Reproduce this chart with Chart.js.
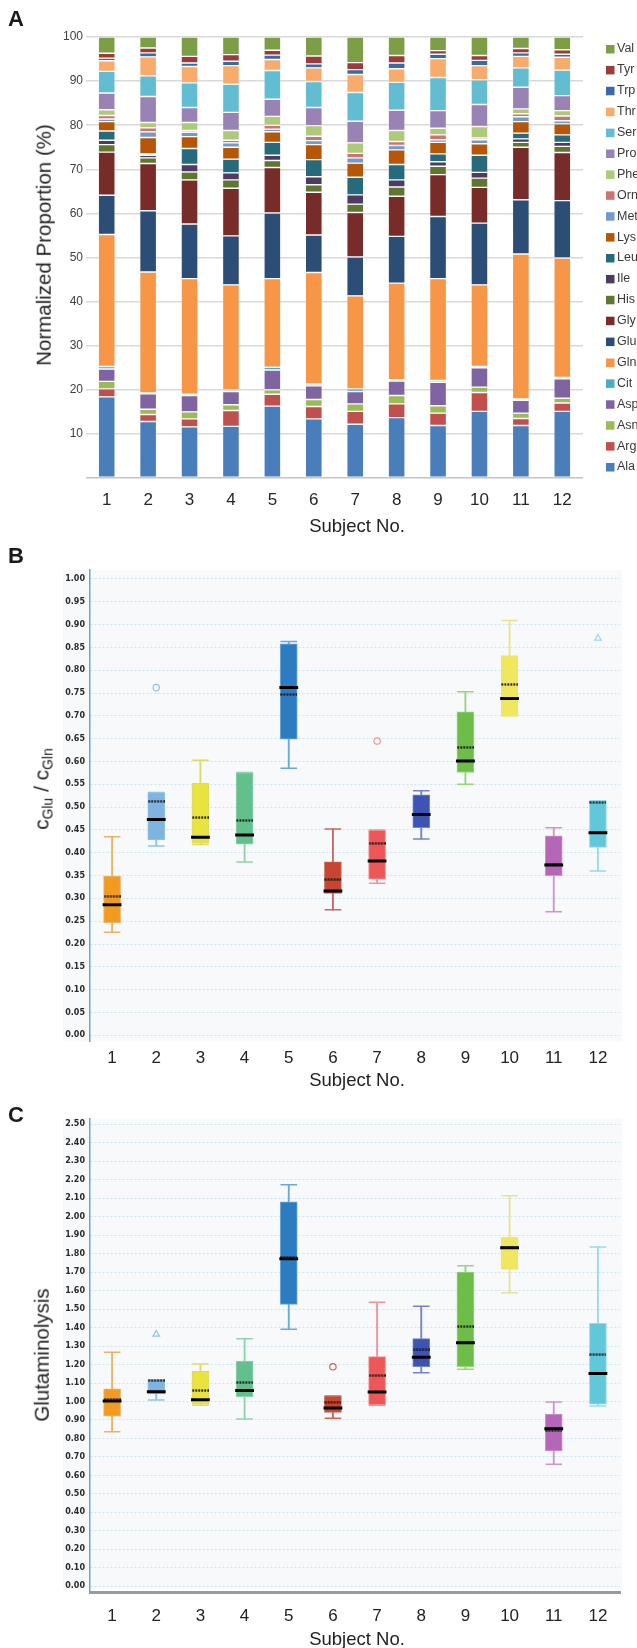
<!DOCTYPE html>
<html>
<head>
<meta charset="utf-8">
<title>Aminoácidos por sujeto</title>
<script src="https://cdn.jsdelivr.net/npm/chart.js@4.4.1/dist/chart.umd.min.js"></script>
<style>
    html, body { margin: 0; padding: 0; background: #fff; }
    body { width: 637px; height: 1648px; position: relative; overflow: hidden; font-family: "Liberation Sans", Arial, sans-serif; color: #222; }
    canvas { position: absolute; left: 0; }
    .lbl { position: absolute; white-space: nowrap; line-height: 1; transform: translate(-50%, -50%); z-index: 2; }
    .panel { font-weight: bold; font-size: 22px; color: #1a1a1a; }
    .ytitle { transform: translate(-50%, -50%) rotate(-90deg); }
    .xtitle { font-size: 18.5px; }
    sub { font-size: 0.66em; vertical-align: -0.32em; line-height: 0; }
</style>
</head>
<body>
<canvas id="chartA" width="637" height="540" style="top:0"></canvas>
<canvas id="chartB" width="637" height="545" style="top:540px"></canvas>
<canvas id="chartC" width="637" height="563" style="top:1085px"></canvas>

<div class="lbl panel" style="left:16px; top:19px">A</div>
<div class="lbl ytitle" style="left:44px; top:245px; font-size:20.5px">Normalized Proportion (%)</div>
<div class="lbl xtitle" style="left:357px; top:526px">Subject No.</div>

<div class="lbl panel" style="left:16px; top:556px">B</div>
<div class="lbl ytitle" style="left:41px; top:789px; font-size:21px">c<sub>Glu</sub> / c<sub>Gln</sub></div>
<div class="lbl xtitle" style="left:357px; top:1080px">Subject No.</div>

<div class="lbl panel" style="left:16px; top:1115px">C</div>
<div class="lbl ytitle" style="left:42px; top:1355px; font-size:20.5px">Glutaminolysis</div>
<div class="lbl xtitle" style="left:357px; top:1639px">Subject No.</div>

<script>
// ---- datos ----
const subjects = ['1', '2', '3', '4', '5', '6', '7', '8', '9', '10', '11', '12'];

// Panel A: proporción normalizada (%) de cada aminoácido, sujetos 1..12
const aminoNames = ['Ala', 'Arg', 'Asn', 'Asp', 'Cit', 'Gln', 'Glu', 'Gly', 'His', 'Ile', 'Leu',
                    'Lys', 'Met', 'Orn', 'Phe', 'Pro', 'Ser', 'Thr', 'Trp', 'Tyr', 'Val'];
const ala = [18.4, 12.8, 11.6, 11.7, 16.3, 13.4, 12.2, 13.7, 11.9, 15.1, 11.9, 15.1];
const arg = [1.8, 1.6, 1.8, 3.6, 2.7, 2.8, 2.9, 3.1, 2.8, 4.3, 1.6, 1.9];
const asn = [1.7, 1.2, 1.6, 1.3, 1.0, 1.6, 1.7, 1.9, 1.7, 1.2, 1.2, 1.1];
const asp = [2.8, 3.5, 3.7, 3.0, 4.5, 3.1, 2.8, 3.3, 5.3, 4.4, 2.9, 4.4];
const cit = [0.6, 0.2, 0.3, 0.4, 0.6, 0.4, 0.6, 0.3, 0.4, 0.3, 0.3, 0.3];
const gln = [29.9, 27.4, 26.2, 23.8, 20.1, 25.3, 21.1, 21.9, 23.1, 18.5, 32.9, 27.1];
const glu = [8.9, 13.9, 12.4, 11.1, 14.9, 8.5, 8.8, 10.6, 14.1, 14.0, 12.3, 13.0];
const gly = [9.8, 10.7, 10.0, 10.8, 10.3, 9.7, 10.1, 9.1, 9.5, 8.1, 11.9, 10.9];
const his = [1.7, 1.3, 1.8, 1.9, 1.6, 1.7, 1.9, 2.1, 1.9, 2.1, 1.1, 1.4];
const ile = [1.0, 0.6, 1.7, 1.6, 1.2, 1.8, 2.1, 1.6, 1.0, 1.3, 0.8, 0.9];
const leu = [2.1, 0.3, 3.6, 3.1, 2.9, 3.9, 4.0, 3.5, 1.8, 3.9, 1.3, 1.7];
const lys = [2.1, 3.7, 2.7, 2.7, 2.4, 3.4, 3.2, 3.3, 2.6, 2.6, 2.6, 2.5];
const met = [0.6, 1.3, 1.0, 1.0, 0.6, 0.9, 1.2, 1.0, 0.6, 0.9, 1.1, 0.7];
const orn = [0.8, 0.9, 0.4, 0.6, 0.9, 1.0, 1.0, 0.9, 1.1, 0.4, 0.7, 1.1];
const phe = [1.3, 1.2, 1.8, 2.2, 2.0, 2.4, 2.4, 2.5, 1.5, 2.6, 1.1, 1.2];
const pro = [3.8, 5.9, 3.4, 4.1, 3.9, 4.1, 4.9, 4.6, 4.0, 5.0, 4.9, 3.4];
const ser = [4.9, 4.7, 5.6, 6.4, 6.5, 5.9, 6.5, 6.3, 7.5, 5.6, 4.4, 5.8];
const thr = [2.4, 4.3, 3.7, 4.2, 2.5, 3.1, 4.1, 3.1, 4.3, 3.2, 2.6, 2.9];
const trp = [0.6, 0.9, 0.8, 1.0, 1.0, 0.9, 1.1, 1.3, 1.0, 1.2, 0.8, 0.7];
const tyr = [1.1, 1.1, 1.5, 1.5, 1.1, 1.8, 1.6, 1.7, 0.8, 1.1, 1.0, 1.0];
const val = [3.7, 2.5, 4.4, 4.0, 3.0, 4.3, 5.8, 4.2, 3.1, 4.2, 2.6, 2.9];
const percentTicks = [0, 10, 20, 30, 40, 50, 60, 70, 80, 90, 100];

// Panel B: cGlu / cGln
const ratioMin    = [0.226, 0.415, 0.418, 0.380, 0.585, 0.275, 0.333, 0.430, 0.550, 0.700, 0.271, 0.360];
const ratioQ1     = [0.247, 0.428, 0.421, 0.419, 0.649, 0.311, 0.342, 0.455, 0.576, 0.700, 0.350, 0.412];
const ratioMedian = [0.286, 0.473, 0.434, 0.439, 0.762, 0.316, 0.382, 0.484, 0.601, 0.738, 0.373, 0.444];
const ratioMean   = [0.305, 0.513, 0.477, 0.471, 0.747, 0.341, 0.421, 0.484, 0.631, 0.769, 0.375, 0.511];
const ratioQ3     = [0.349, 0.532, 0.552, 0.576, 0.858, 0.380, 0.450, 0.527, 0.709, 0.832, 0.437, 0.514];
const ratioMax    = [0.435, 0.532, 0.603, 0.576, 0.863, 0.452, 0.450, 0.536, 0.753, 0.909, 0.455, 0.514];
const ratioOutCircle   = [null, 0.762, null, null, null, null, 0.645, null, null, null, null, null];
const ratioOutTriangle = [null, null, null, null, null, null, null, null, null, null, null, 0.870];
const ratioTicks = [0.00, 0.05, 0.10, 0.15, 0.20, 0.25, 0.30, 0.35, 0.40, 0.45, 0.50,
                    0.55, 0.60, 0.65, 0.70, 0.75, 0.80, 0.85, 0.90, 0.95, 1.00];

// Panel C: glutaminólisis
const glnMin    = [0.837, 1.008, 0.980, 0.905, 1.391, 0.909, 0.980, 1.156, 1.174, 1.589, 0.660, 0.976];
const glnQ1     = [0.921, 1.041, 0.985, 1.026, 1.526, 0.941, 0.981, 1.188, 1.188, 1.715, 0.732, 0.985];
const glnMedian = [1.003, 1.053, 1.010, 1.059, 1.773, 0.965, 1.051, 1.239, 1.318, 1.832, 0.853, 1.152];
const glnMean   = [1.012, 1.113, 1.059, 1.102, 1.780, 0.997, 1.140, 1.279, 1.405, 1.835, 0.842, 1.253];
const glnQ3     = [1.068, 1.116, 1.165, 1.219, 2.080, 1.030, 1.243, 1.340, 1.701, 1.888, 0.932, 1.423];
const glnMax    = [1.266, 1.116, 1.203, 1.340, 2.173, 1.030, 1.537, 1.515, 1.735, 2.114, 0.997, 1.836];
const glnOutCircle   = [null, null, null, null, null, 1.188, null, null, null, null, null, null];
const glnOutTriangle = [null, 1.364, null, null, null, null, null, null, null, null, null, null];
const glnTicks = [0.00, 0.10, 0.20, 0.30, 0.40, 0.50, 0.60, 0.70, 0.80, 0.90, 1.00, 1.10, 1.20,
                  1.30, 1.40, 1.50, 1.60, 1.70, 1.80, 1.90, 2.00, 2.10, 2.20, 2.30, 2.40, 2.50];

// ---- estilos ----
const aminoColors = ['#4a7ebb', '#c0504d', '#9bbb59', '#8064a2', '#4bacc6', '#f79646', '#2c4d75',
                     '#772c2a', '#5f7530', '#4d3b62', '#276a7c', '#b65708', '#729aca', '#cd7371',
                     '#afc97a', '#9983b5', '#62bdd3', '#f9ab6b', '#3a6aa6', '#9c3c3a', '#7c9e45'];
const boxColors = ['#f39a21', '#80b4e0', '#e9e33e', '#63c08d', '#2c7cc1', '#c8462f',
                   '#ee5757', '#3e54b4', '#6dbd49', '#efe85e', '#b566b6', '#60c8d9'];
const whiskerColors = ['#e6b56a', '#8fc4e8', '#dcd96f', '#8ed3ad', '#6ea8d7', '#c26a5b',
                       '#ef9494', '#7584ca', '#99d37f', '#e8e48c', '#cc96cd', '#97dbe7'];

Chart.defaults.font.family = '"Liberation Sans", Arial, sans-serif';

const aminoData = [ala, arg, asn, asp, cit, gln, glu, gly, his, ile, leu, lys, met, orn, phe, pro, ser, thr, trp, tyr, val];

// Leyenda del panel A (Val arriba, Ala abajo)
const legendA = {
    id: 'legendA',
    afterDraw(chart) {
        const { ctx, chartArea } = chart;
        const sets = chart.data.datasets;
        ctx.save();
        ctx.font = '12.5px "Liberation Sans", Arial, sans-serif';
        ctx.textBaseline = 'middle';
        sets.forEach((ds, i) => {
            const row = sets.length - 1 - i;
            const y = chartArea.top + 12 + row * 20.9;
            ctx.fillStyle = ds.backgroundColor;
            ctx.fillRect(chartArea.right + 23, y - 4, 8.5, 8.5);
            ctx.fillStyle = '#3a3a3a';
            ctx.fillText(ds.label, chartArea.right + 34, y);
        });
        ctx.restore();
    }
};

// Fondo claro de los paneles B y C
const fondoCaja = {
    id: 'fondoCaja',
    beforeDraw(chart, args, opts) {
        const { ctx, chartArea } = chart;
        ctx.save();
        ctx.fillStyle = '#f8f9fb';
        ctx.fillRect(opts.left, chartArea.top, chartArea.right + 2 - opts.left,
                     chartArea.bottom - chartArea.top - (opts.trim || 0));
        ctx.restore();
    }
};

// marca punteada para la media
const puntosMedia = document.createElement('canvas');
puntosMedia.width = 17;
puntosMedia.height = 3;
(() => {
    const c = puntosMedia.getContext('2d');
    c.fillStyle = '#111';
    for (let x = 0; x < 17; x += 3) c.fillRect(x + 0.4, 0.4, 1.8, 2.2);
})();

// ---- Panel A ----
new Chart(document.getElementById('chartA'), {
    type: 'bar',
    data: {
        labels: subjects,
        datasets: aminoNames.map((name, i) => ({
            label: name,
            data: aminoData[i],
            backgroundColor: aminoColors[i],
            borderColor: 'rgba(255,255,255,0.35)',
            borderWidth: 0.7,
            borderSkipped: false,
            barPercentage: 0.41,
            categoryPercentage: 1
        }))
    },
    options: {
        responsive: false, animation: false, events: [],
        layout: { padding: { left: 0, right: 54, top: 37, bottom: 0 } },
        plugins: { legend: { display: false }, tooltip: { enabled: false } },
        scales: {
            x: {
                stacked: true,
                grid: { display: false, drawTicks: false }, border: { display: false },
                ticks: { color: '#262626', font: { size: 17 }, padding: 12 },
                afterFit: s => { s.height = 62; }
            },
            y: {
                stacked: true, min: 0, max: 100,
                afterBuildTicks: s => { s.ticks = percentTicks.map(v => ({ value: v })); },
                grid: { color: c => c.tick && c.tick.value === 0 ? '#c4c4c4' : '#d9d9d9', lineWidth: 1.5, drawTicks: false },
                border: { display: false },
                ticks: { color: '#404040', font: { size: 12 }, padding: 3, callback: v => v === 0 ? '' : v },
                afterFit: s => { s.width = 86; }
            }
        }
    },
    plugins: [legendA]
});

// ---- Paneles B y C (boxplots) ----
function crearBoxplot(id, st, ejeY, xAlto, tickPad, fondo, padTop, bordeX) {
    const puntos = { type: 'line', showLine: false };
    return new Chart(document.getElementById(id), {
        type: 'bar',
        data: {
            labels: subjects,
            datasets: [
                { type: 'bar', data: subjects.map((s, i) => [st.min[i], st.max[i]]),
                  backgroundColor: whiskerColors, barThickness: 1.2, grouped: false, order: 6 },
                { type: 'bar', data: subjects.map((s, i) => [st.q1[i], st.q3[i]]),
                  backgroundColor: boxColors, borderColor: whiskerColors, borderWidth: 1,
                  borderSkipped: false, barThickness: 17, grouped: false, order: 5 },
                { ...puntos, data: st.max, pointStyle: 'line', pointRadius: 8.3, pointBorderWidth: 1.5,
                  pointBorderColor: whiskerColors, order: 4 },
                { ...puntos, data: st.min, pointStyle: 'line', pointRadius: 8.3, pointBorderWidth: 1.5,
                  pointBorderColor: whiskerColors, order: 4 },
                { ...puntos, data: st.outCircle, pointStyle: 'circle', pointRadius: 3.2, pointBorderWidth: 1.2,
                  pointBorderColor: whiskerColors, pointBackgroundColor: 'rgba(255,255,255,0)', order: 4 },
                { ...puntos, data: st.outTriangle, pointStyle: 'triangle', pointRadius: 3.8, pointBorderWidth: 1.2,
                  pointBorderColor: whiskerColors, pointBackgroundColor: 'rgba(255,255,255,0)', order: 4 },
                { ...puntos, data: st.median, pointStyle: 'line', pointRadius: 9.4, pointBorderWidth: 3,
                  pointBorderColor: '#000', order: 2 },
                { ...puntos, data: st.mean, pointStyle: puntosMedia, pointRadius: 8, order: 1 }
            ]
        },
        options: {
            responsive: false, animation: false, events: [],
            layout: { padding: { left: 0, right: 17, top: padTop, bottom: 0 } },
            plugins: { legend: { display: false }, tooltip: { enabled: false }, fondoCaja: fondo },
            scales: {
                x: {
                    grid: { display: false, drawTicks: false },
                    border: bordeX,
                    ticks: { color: '#222', font: { size: 17 }, padding: tickPad },
                    afterFit: s => { s.height = xAlto; }
                },
                y: {
                    min: ejeY.min, max: ejeY.max,
                    afterBuildTicks: s => { s.ticks = ejeY.ticks.map(v => ({ value: v })); },
                    grid: { color: '#cfe4f0', lineWidth: 1, drawTicks: false },
                    border: { display: true, color: '#6aa6cc', width: 1.5, dash: [2, 2] },
                    ticks: { autoSkip: false, color: '#2a2a2a', padding: 5,
                             font: { family: '"DejaVu Sans", sans-serif', size: 8, weight: 'bold' },
                             callback: v => Number(v).toFixed(2) },
                    afterFit: s => { s.width = 90; }
                }
            }
        },
        plugins: [fondoCaja]
    });
}

crearBoxplot('chartB',
    { min: ratioMin, q1: ratioQ1, median: ratioMedian, mean: ratioMean, q3: ratioQ3, max: ratioMax,
      outCircle: ratioOutCircle, outTriangle: ratioOutTriangle },
    { min: -0.014, max: 1.0197, ticks: ratioTicks },
    43.3, 6, { left: 63, trim: 0 }, 30, { display: false });

crearBoxplot('chartC',
    { min: glnMin, q1: glnQ1, median: glnMedian, mean: glnMean, q3: glnQ3, max: glnMax,
      outCircle: glnOutCircle, outTriangle: glnOutTriangle },
    { min: -0.0308, max: 2.5325, ticks: glnTicks },
    56, 14.5, { left: 63, trim: 3 }, 33.3, { display: true, color: '#9a9a9a', width: 3 });
</script>
</body>
</html>
